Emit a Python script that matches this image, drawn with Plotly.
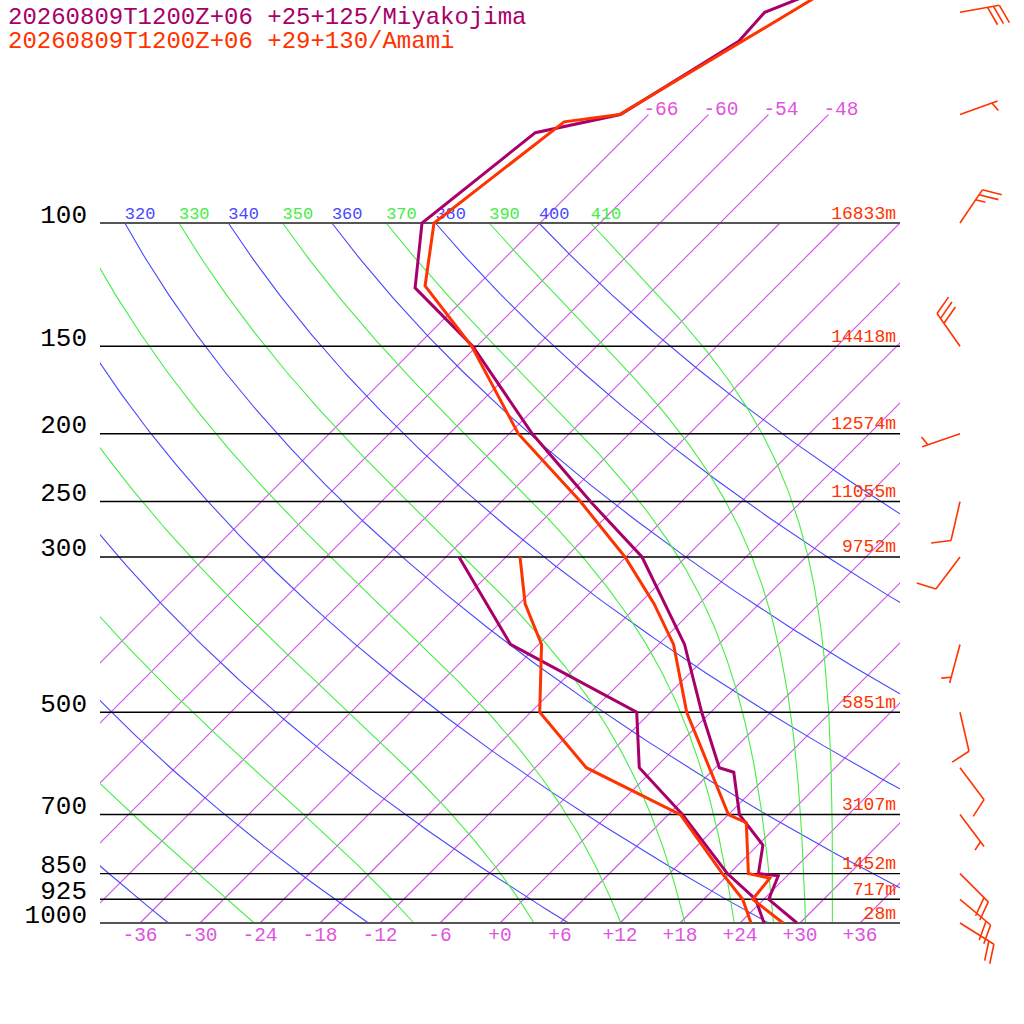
import numpy as np
import plotly.graph_objects as go

# --- sounding data (hPa, degC) ---
# Miyakojima +25+125
miya_p = [45, 50, 55, 70, 74.3, 100, 123.8, 150, 200, 250, 300, 400, 500, 600, 609, 700, 774, 850, 856, 925, 1000]
miya_t = [-59.7, -64.6, -64.3, -68.8, -75.5, -77.8, -72.0, -60.4, -45.7, -33.1, -22.4, -9.4, -0.9, 6.4, 8.3, 13.1, 18.5, 20.9, 23.1, 24.5, 29.7]
miya_dp = [300, 400, 500, 600, 700, 850, 925, 1000]
miya_td = [-40.7, -26.8, -7.4, -1.6, 7.4, 17.8, 23.2, 26.4]

# Amami +29+130
amami_p = [45, 50, 70, 71.7, 100, 123, 150, 200, 250, 300, 350, 400, 500, 700, 719, 850, 863, 925, 1000]
amami_t = [-59.9, -62.0, -68.9, -73.7, -76.6, -71.2, -60.5, -47.1, -34.1, -24.1, -16.5, -10.5, -2.4, 12.0, 14.6, 19.9, 22.5, 22.9, 28.3]
amami_dp = [300, 350, 400, 500, 600, 700, 850, 925, 1000]
amami_td = [-34.6, -29.4, -23.7, -17.1, -6.9, 7.2, 17.3, 21.9, 25.1]

# Amami winds (deg, kt)
wind_p = [50, 70, 100, 150, 200, 250, 300, 400, 500, 600, 700, 850, 925, 1000]
wind_dir = [80, 70, 34, 325, 251, 193, 217, 195, 167, 143, 143, 135, 130, 122]
wind_kt = [30, 5, 25, 30, 5, 10, 10, 5, 10, 10, 5, 20, 20, 20]

# chart furniture
levels = [1000, 925, 850, 700, 500, 300, 250, 200, 150, 100]
heights = ["28m", "717m", "1452m", "3107m", "5851m", "9752m", "11055m", "12574m", "14418m", "16833m"]
isotherms = list(range(-66, 37, 6))
upper_isotherms = [-66, -60, -54, -48]
temp_ticks = list(range(-36, 37, 6))
dry_thetas = [240, 260, 280, 300, 320, 340, 360, 380, 400]
moist_thetas = [250, 270, 290, 310, 330, 350, 370, 390, 410]

titles = ["20260809T1200Z+06 +25+125/Miyakojima", "20260809T1200Z+06 +29+130/Amami"]

MIYA = "#a8006a"
AMAMI = "#ff3300"
ISO = "#d050e8"
TLAB = "#dd55dd"
BLUE = "#4848ff"
GREEN = "#44ee44"
FONT = "Liberation Mono"

# geometry: 10 px per degC, 700 px per decade of pressure, 45 deg skew
PX_DEG = 10.0
PX_DEC = 700.0
SKEW = PX_DEC / PX_DEG
T_MIN, T_MAX = -40, 40
Y1000 = 923  # pixel row of 1000 hPa
ylog_bottom = 3 + (1024 - Y1000) / PX_DEC
ylog_top = 3 - Y1000 / PX_DEC


def skx(t, p):
    return np.asarray(t, float) + SKEW * np.log10(1000.0 / np.asarray(p, float))


def up(p, px):
    # pressure px pixels above p
    return np.asarray(p, float) * 10 ** (-px / PX_DEC)


def theta_e(tk, p):
    tc = tk - 273.15
    es = 6.112 * np.exp(17.67 * tc / (tc + 243.5))
    r = 622.0 * es / np.maximum(p - es, 1e-6)
    th = tk * (1000.0 / p) ** (0.2854 * (1 - 0.00028 * r))
    return th * np.exp((3.376 / tk - 0.00254) * r * (1 + 0.00081 * r))


def moist_t(the, p):
    lo = np.full_like(p, 100.0)
    hi = np.full_like(p, 320.0)
    with np.errstate(all="ignore"):
        for _ in range(60):
            mid = 0.5 * (lo + hi)
            big = ~(theta_e(mid, p) < the)
            hi = np.where(big, mid, hi)
            lo = np.where(big, lo, mid)
    return 0.5 * (lo + hi) - 273.15


fig = go.Figure()


def line(x, y, color, width, xaxis="x"):
    fig.add_trace(go.Scatter(x=x, y=y, mode="lines", xaxis=xaxis, yaxis="y",
                             line=dict(color=color, width=width),
                             hoverinfo="skip", showlegend=False))


def text(x, y, labels, color, size, pos, xaxis="x", clip=True):
    fig.add_trace(go.Scatter(x=list(x), y=list(y), mode="text", text=labels, xaxis=xaxis, yaxis="y",
                             textposition=pos, cliponaxis=clip,
                             textfont=dict(family=FONT, size=size, color=color),
                             hoverinfo="skip", showlegend=False))


pp = np.logspace(2, 3, 200)

# isotherms
xs, ys = [], []
for t in isotherms:
    ptop = 70 if t in upper_isotherms else 100
    xs += list(skx([t, t], [1000, ptop])) + [None]
    ys += [1000, ptop, None]
line(xs, ys, ISO, 1.1)

# dry adiabats
xs, ys = [], []
for th in dry_thetas:
    t = th * (pp / 1000.0) ** 0.286 - 273.15
    xs += list(skx(t, pp)) + [None]
    ys += list(pp) + [None]
line(xs, ys, BLUE, 1.1)

# moist adiabats
xs, ys = [], []
for th in moist_thetas:
    t = moist_t(th, pp)
    xs += list(skx(t, pp)) + [None]
    ys += list(pp) + [None]
line(xs, ys, GREEN, 1.1)

# isobars
xs, ys = [], []
for p in levels[1:-1]:
    xs += [T_MIN, T_MAX, None]
    ys += [p, p, None]
line(xs, ys, "black", 1.4)
line([T_MIN, T_MAX, None, T_MIN, T_MAX], [1000, 1000, None, 100, 100], "#555555", 2.2)

# theta labels along 100 hPa (only those that reach the box)
lab_x, lab_c, lab_t = [], [], []
for th in dry_thetas:
    lab_x.append(float(skx(th * 0.1 ** 0.286 - 273.15, 100)))
    lab_t.append(str(th)); lab_c.append(BLUE)
for th in moist_thetas:
    lab_x.append(float(skx(moist_t(th, np.array([100.0]))[0], 100)))
    lab_t.append(str(th)); lab_c.append(GREEN)
keep = [i for i, x in enumerate(lab_x) if T_MIN - 4 < x < T_MAX]
fig.add_trace(go.Scatter(x=[lab_x[i] for i in keep], y=[100] * len(keep), mode="text",
                         text=[lab_t[i] for i in keep],
                         textposition="top right", cliponaxis=True,
                         textfont=dict(family=FONT, size=17, color=[lab_c[i] for i in keep]),
                         hoverinfo="skip", showlegend=False))

# isotherm labels
p_iso = up([70] * 4, -5)
text(skx(upper_isotherms, p_iso), p_iso, [f"{t:+d}" for t in upper_isotherms],
     TLAB, 19.5, "top right", clip=False)
text(temp_ticks, up([1000] * len(temp_ticks), -3), [f"{t:+d}" for t in temp_ticks],
     TLAB, 19.5, "bottom center", clip=False)

# height labels
text([T_MAX - 0.4] * len(levels), levels, heights, AMAMI, 18, "top left", clip=False)

# profiles
for p, t, c in [(miya_dp, miya_td, MIYA), (miya_p, miya_t, MIYA),
                (amami_dp, amami_td, AMAMI), (amami_p, amami_t, AMAMI)]:
    line(list(skx(t, p)), p, c, 3)

# wind barbs (Amami), drawn on the full-width axis
X2_MIN = T_MIN - 100 / PX_DEG
X2_MAX = T_MIN + (1024 - 100) / PX_DEG
BX = X2_MIN + 960 / PX_DEG
STAFF, FULL, HALF, GAP, TILT = 40.0, 20.0, 10.0, 6.0, np.radians(20)


def to_data(p0, dx, dy):
    return BX + dx / PX_DEG, float(up(p0, dy))


bx, by = [], []
for p0, d, s in zip(wind_p, wind_dir, wind_kt):
    a = np.radians(d)
    u = np.array([np.sin(a), np.cos(a)])
    perp = np.array([u[1], -u[0]])
    bvec = np.cos(TILT) * perp + np.sin(TILT) * u
    tip = STAFF * u
    segs = [(np.zeros(2), tip)]
    n10, n5 = s // 10, (s % 10) // 5
    k = 0
    for _ in range(n10):
        st = tip - k * GAP * u
        segs.append((st, st + FULL * bvec)); k += 1
    if n5:
        k = max(k, 1)
        st = tip - k * GAP * u
        segs.append((st, st + HALF * bvec))
    for a0, a1 in segs:
        x0, y0 = to_data(p0, *a0)
        x1, y1 = to_data(p0, *a1)
        bx += [x0, x1, None]
        by += [y0, y1, None]
line(bx, by, AMAMI, 1.6, xaxis="x2")

# pressure labels on the left
text([X2_MIN + 87 / PX_DEG] * len(levels), up(levels, 7), [str(p) for p in levels],
     "black", 26, "middle left", xaxis="x2", clip=False)

for i, (ttl, c) in enumerate(zip(titles, [MIYA, AMAMI])):
    fig.add_annotation(x=6 / 1024, y=1 - (17 + 24 * i) / 1024, xref="paper", yref="paper",
                       xanchor="left", yanchor="middle", text=ttl, showarrow=False,
                       font=dict(family=FONT, size=24, color=c))

ax = dict(visible=False, showgrid=False, zeroline=False, fixedrange=True)
fig.update_layout(
    width=1024, height=1024, margin=dict(l=0, r=0, t=0, b=0),
    paper_bgcolor="white", plot_bgcolor="rgba(0,0,0,0)",
    xaxis=dict(ax, domain=[100 / 1024, 900 / 1024], range=[T_MIN, T_MAX], anchor="y"),
    xaxis2=dict(ax, domain=[0, 1], range=[X2_MIN, X2_MAX], anchor="y"),
    yaxis=dict(ax, domain=[0, 1], type="log", range=[ylog_bottom, ylog_top], anchor="x"),
)
fig.write_html("out.html", config={"displayModeBar": False},
               post_script="document.body.style.margin='0px';")
